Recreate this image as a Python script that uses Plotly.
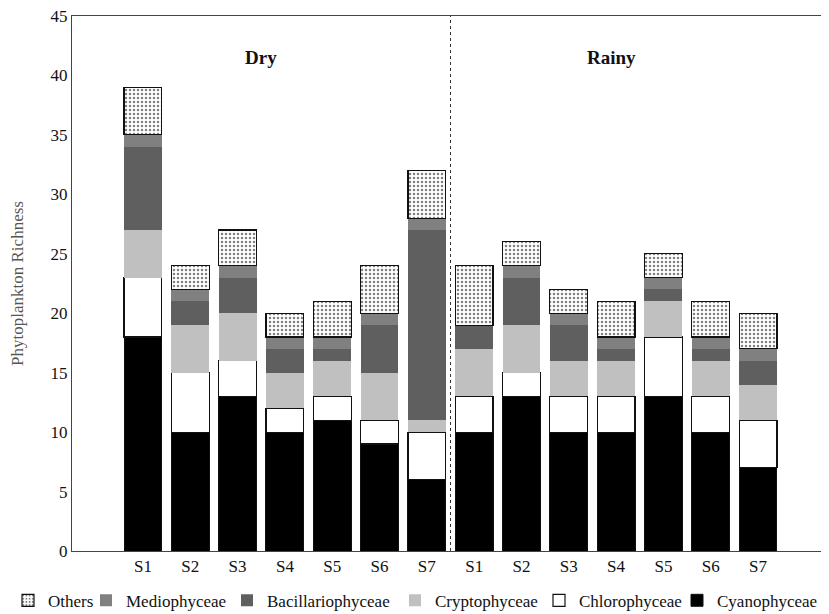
import plotly.graph_objects as go

sites = ["S1", "S2", "S3", "S4", "S5", "S6", "S7"]
seasons = ["Dry", "Rainy"]
tick_labels = sites + sites

cyanophyceae = [18, 10, 13, 10, 11, 9, 6, 10, 13, 10, 10, 13, 10, 7]
chlorophyceae = [5, 5, 3, 2, 2, 2, 4, 3, 2, 3, 3, 5, 3, 4]
cryptophyceae = [4, 4, 4, 3, 3, 4, 1, 4, 4, 3, 3, 3, 3, 3]
bacillariophyceae = [7, 2, 3, 2, 1, 4, 16, 2, 4, 3, 1, 1, 1, 2]
mediophyceae = [1, 1, 1, 1, 1, 1, 1, 0, 1, 1, 1, 1, 1, 1]
others = [4, 2, 3, 2, 3, 4, 4, 5, 2, 2, 3, 2, 3, 3]

xpos = list(range(len(tick_labels)))
serif = "Liberation Serif, Times New Roman, serif"

# legend placement (left-to-right order in the legend row), in page pixels
legend_keys = {"Others": "legend", "Mediophyceae": "legend2", "Bacillariophyceae": "legend3",
               "Cryptophyceae": "legend4", "Chlorophyceae": "legend5", "Cyanophyceae": "legend6"}
legend_left_px = {"legend": 8, "legend2": 86, "legend3": 227, "legend4": 395,
                  "legend5": 539, "legend6": 677}

fig = go.Figure()
series = [
    ("Cyanophyceae", cyanophyceae, "#000000", 1),
    ("Chlorophyceae", chlorophyceae, "#ffffff", 1.2),
    ("Cryptophyceae", cryptophyceae, "#c0c0c0", 0),
    ("Bacillariophyceae", bacillariophyceae, "#5f5f5f", 0),
    ("Mediophyceae", mediophyceae, "#808080", 0),
]
for name, vals, col, lw in series:
    fig.add_trace(go.Bar(x=xpos, y=vals, name=name, width=0.8, legend=legend_keys[name],
                         showlegend=True,
                         marker=dict(color=col, line=dict(color="#111111", width=lw))))
fig.add_trace(go.Bar(x=xpos, y=others, name="Others", width=0.8, legend=legend_keys["Others"],
                     showlegend=True,
                     marker=dict(color="#ffffff",
                                 line=dict(color="#111111", width=1.2),
                                 pattern=dict(shape=".", fgcolor="#000000", bgcolor="#ffffff",
                                              size=4, solidity=0.3))))

fig.add_shape(type="line", x0=6.5, x1=6.5, y0=0, y1=45, xref="x", yref="y",
              line=dict(color="#333333", width=1, dash="dot"))
fig.add_annotation(x=2.5, y=41.5, text="<b>Dry</b>", showarrow=False,
                   font=dict(family=serif, size=19, color="#111111"))
fig.add_annotation(x=9.9, y=41.5, text="<b>Rainy</b>", showarrow=False,
                   font=dict(family=serif, size=19, color="#111111"))

page_off = 8  # default body margin of the page
plot_left, plot_w = 72, 757
legends = {}
for key, px in legend_left_px.items():
    legends[key] = dict(orientation="h", x=(px - plot_left) / plot_w, xanchor="left",
                        y=-0.093, yanchor="middle",
                        font=dict(family=serif, size=17, color="#111111"),
                        itemwidth=30, bgcolor="rgba(0,0,0,0)")

fig.update_layout(
    width=829 - page_off, height=614 - page_off,
    showlegend=True,
    barmode="stack",
    bargap=0.2,
    plot_bgcolor="white", paper_bgcolor="white",
    margin=dict(l=plot_left - page_off, r=0, t=16 - page_off, b=63, autoexpand=False),
    font=dict(family=serif, size=16, color="#111111"),
    xaxis=dict(range=[-1.5, 14.5], tickvals=xpos, ticktext=tick_labels,
               showline=True, linecolor="#444444", linewidth=1, mirror=True,
               showgrid=False, zeroline=False, ticks="", automargin=False,
               tickfont=dict(family=serif, size=17, color="#111111")),
    yaxis=dict(range=[0, 45], dtick=5, showline=True, linecolor="#444444", linewidth=1,
               showgrid=False, zeroline=False, ticks="", automargin=False,
               ticklabeloverflow="allow",
               tickfont=dict(family=serif, size=17, color="#111111"),
               title=dict(text="Phytoplankton Richness", standoff=22,
                          font=dict(family=serif, size=17, color="#555555"))),
    **legends,
)

fig.write_html("out.html")
